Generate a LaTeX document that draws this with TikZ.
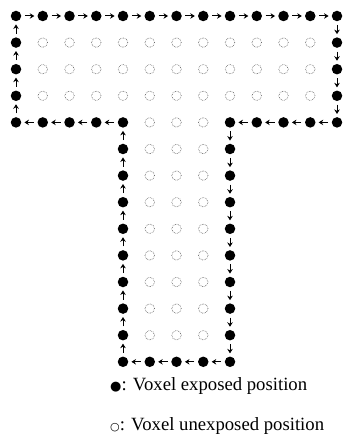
\documentclass[tikz,border=0pt]{standalone}
\usepackage{fontspec}
\setmainfont{Liberation Serif}
\newfontfamily\symfont{DejaVu Sans}
\usetikzlibrary{arrows.meta}
\begin{document}
\begin{tikzpicture}[x=1pt,y=1pt,
  filled/.style={circle,fill=black,inner sep=0pt,minimum size=10.5pt},
  hollow/.style={circle,draw=black!65,densely dotted,line width=0.6pt,inner sep=0pt,minimum size=9.5pt},
  flow/.style={-{Stealth[length=4.5pt,width=5.5pt]},line width=1pt,shorten >=3pt,shorten <=3.5pt},
  legend/.style={anchor=base west,inner sep=0pt,font=\fontsize{18.7}{22}\selectfont}]
\useasboundingbox (0,0) rectangle (344,-435);
\def\dx{26.75}\def\dy{26.6}
% filled boundary nodes
\foreach \c in {0,...,12}{\node[filled] (n\c-0) at ({16+\dx*\c},{-16}) {};}
\foreach \r in {1,...,3}{
  \node[filled] (n0-\r) at (16,{-16-\dy*\r}) {};
  \node[filled] (n12-\r) at ({16+\dx*12},{-16-\dy*\r}) {};}
\foreach \c in {0,1,2,3,4,8,9,10,11,12}{\node[filled] (n\c-4) at ({16+\dx*\c},{-16-\dy*4}) {};}
\foreach \r in {5,...,12}{
  \node[filled] (n4-\r) at ({16+\dx*4},{-16-\dy*\r}) {};
  \node[filled] (n8-\r) at ({16+\dx*8},{-16-\dy*\r}) {};}
\foreach \c in {4,...,8}{\node[filled] (n\c-13) at ({16+\dx*\c},{-16-\dy*13}) {};}
% hollow interior nodes
\foreach \r in {1,2,3}{\foreach \c in {1,...,11}{\node[hollow] (h\c-\r) at ({16+\dx*\c},{-16-\dy*\r}) {};}}
\foreach \r in {4,...,12}{\foreach \c in {5,6,7}{\node[hollow] (h\c-\r) at ({16+\dx*\c},{-16-\dy*\r}) {};}}
% arrows along the loop
\foreach \c [evaluate=\c as \n using int(\c+1)] in {0,...,11}{\draw[flow] (n\c-0) -- (n\n-0);}
\foreach \r [evaluate=\r as \n using int(\r+1)] in {0,...,3}{\draw[flow] (n12-\r) -- (n12-\n);}
\foreach \c [evaluate=\c as \n using int(\c-1)] in {12,...,9}{\draw[flow] (n\c-4) -- (n\n-4);}
\foreach \r [evaluate=\r as \n using int(\r+1)] in {4,...,12}{\draw[flow] (n8-\r) -- (n8-\n);}
\foreach \c [evaluate=\c as \n using int(\c-1)] in {8,...,5}{\draw[flow] (n\c-13) -- (n\n-13);}
\foreach \r [evaluate=\r as \n using int(\r-1)] in {13,...,5}{\draw[flow] (n4-\r) -- (n4-\n);}
\foreach \c [evaluate=\c as \n using int(\c-1)] in {4,...,1}{\draw[flow] (n\c-4) -- (n\n-4);}
\foreach \r [evaluate=\r as \n using int(\r-1)] in {4,...,1}{\draw[flow] (n0-\r) -- (n0-\n);}
% legend
\node[legend] (l1) at (110,-390) {{\symfont\fontsize{13}{13}\selectfont\raisebox{-0.5pt}{●}}: Voxel exposed position};
\node[legend] (l2) at (110,-430) {{\symfont\fontsize{11}{11}\selectfont ○}: Voxel unexposed position};
\end{tikzpicture}
\end{document}
